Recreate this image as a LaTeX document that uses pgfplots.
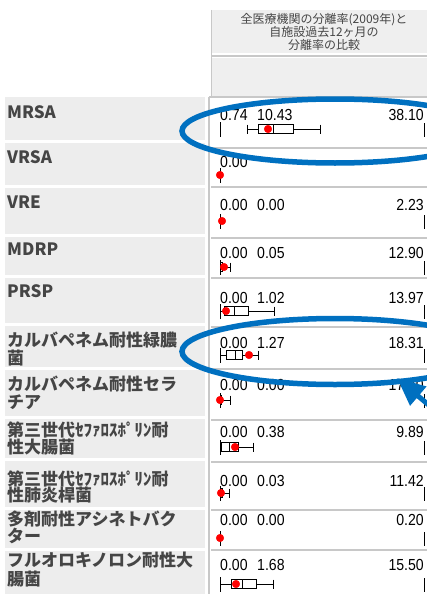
\documentclass[border=0pt]{standalone}
\usepackage{fontspec}
\usepackage{pgfplots}
\pgfplotsset{compat=1.18}
\usepgfplotslibrary{statistics}
\usetikzlibrary{arrows.meta}
\setmainfont{Liberation Sans}
\newfontfamily\jp{Noto Sans CJK JP}
\newfontfamily\num{Liberation Sans}[FakeStretch=0.88]
\definecolor{hdrgray}{HTML}{EFEFEF}
\definecolor{lblgray}{HTML}{EDEDED}
\definecolor{linegray}{HTML}{C8C8C8}
\definecolor{txtgray}{HTML}{454545}
\definecolor{annblue}{HTML}{0070C0}
\tikzset{
  lbl/.style={anchor=base west, inner sep=0pt, text=txtgray, font=\jp\bfseries\fontsize{17}{17}\selectfont},
  nl/.style={anchor=base west, inner sep=0pt, font=\num\fontsize{16}{16}\selectfont},
  nr/.style={anchor=base east, inner sep=0pt, font=\num\fontsize{16}{16}\selectfont},
  hd/.style={anchor=base, inner sep=0pt, text=txtgray, font=\jp\fontsize{12}{12}\selectfont}}
\pgfplotsset{bx/.style={draw=black, fill=white, line width=0.8pt, boxplot/draw direction=x}}
\begin{document}
\begin{tikzpicture}
\begin{axis}[scale only axis, width=427pt, height=594pt,
  xmin=0, xmax=427, ymin=0, ymax=594, y dir=reverse,
  hide axis, clip=true]

% header
\fill[hdrgray] (axis cs:211,10) rectangle (axis cs:427,53);
\fill[hdrgray] (axis cs:211,58) rectangle (axis cs:427,96);
\draw[linegray, line width=1.5pt] (axis cs:211,56) -- (axis cs:427,56);
\draw[linegray, line width=1pt] (axis cs:211,10) -- (axis cs:211,97);
\node[hd] at (axis cs:324,24) {全医療機関の分離率(2009年)と};
\node[hd] at (axis cs:324,37) {自施設過去12ヶ月の};
\node[hd] at (axis cs:324,50) {分離率の比較};

% left label backgrounds
\fill[lblgray] (axis cs:5,97) rectangle (axis cs:205,139.5);
\fill[lblgray] (axis cs:5,142.5) rectangle (axis cs:205,184.5);
\fill[lblgray] (axis cs:5,187.5) rectangle (axis cs:205,233.5);
\fill[lblgray] (axis cs:5,236.5) rectangle (axis cs:205,274.5);
\fill[lblgray] (axis cs:5,277.5) rectangle (axis cs:205,322.5);
\fill[lblgray] (axis cs:5,325.5) rectangle (axis cs:205,366.5);
\fill[lblgray] (axis cs:5,369.5) rectangle (axis cs:205,415.5);
\fill[lblgray] (axis cs:5,418.5) rectangle (axis cs:205,457.5);
\fill[lblgray] (axis cs:5,460.5) rectangle (axis cs:205,506.5);
\fill[lblgray] (axis cs:5,509.5) rectangle (axis cs:205,547.5);
\fill[lblgray] (axis cs:5,550.5) rectangle (axis cs:205,594);

% grid lines of the right column
\draw[linegray, line width=1.5pt] (axis cs:209,97) -- (axis cs:209,594);
\draw[linegray, line width=1.5pt] (axis cs:209,97) -- (axis cs:427,97);
\draw[linegray, line width=1.3pt] (axis cs:211,148) -- (axis cs:427,148);
\draw[linegray, line width=1.3pt] (axis cs:211,187) -- (axis cs:427,187);
\draw[linegray, line width=1.3pt] (axis cs:211,238) -- (axis cs:427,238);
\draw[linegray, line width=1.3pt] (axis cs:211,278) -- (axis cs:427,278);
\draw[linegray, line width=1.3pt] (axis cs:211,327) -- (axis cs:427,327);
\draw[linegray, line width=1.3pt] (axis cs:211,369) -- (axis cs:427,369);
\draw[linegray, line width=1.3pt] (axis cs:211,420) -- (axis cs:427,420);
\draw[linegray, line width=1.3pt] (axis cs:211,462) -- (axis cs:427,462);
\draw[linegray, line width=1.3pt] (axis cs:211,510) -- (axis cs:427,510);
\draw[linegray, line width=1.3pt] (axis cs:211,550) -- (axis cs:427,550);

% row labels
\node[lbl] at (axis cs:7,118) {MRSA};
\node[lbl] at (axis cs:7,163) {VRSA};
\node[lbl] at (axis cs:7,208) {VRE};
\node[lbl] at (axis cs:7,255) {MDRP};
\node[lbl] at (axis cs:7,297) {PRSP};
\node[lbl] at (axis cs:7,346) {カルバペネム耐性緑膿};
\node[lbl] at (axis cs:7,364) {菌};
\node[lbl] at (axis cs:7,390) {カルバペネム耐性セラ};
\node[lbl] at (axis cs:7,408) {チア};
\node[lbl] at (axis cs:7,436) {第三世代ｾﾌｧﾛｽﾎﾟﾘﾝ耐};
\node[lbl] at (axis cs:7,453) {性大腸菌};
\node[lbl] at (axis cs:7,485) {第三世代ｾﾌｧﾛｽﾎﾟﾘﾝ耐};
\node[lbl] at (axis cs:7,501) {性肺炎桿菌};
\node[lbl] at (axis cs:7,525) {多剤耐性アシネトバク};
\node[lbl] at (axis cs:7,542) {ター};
\node[lbl] at (axis cs:7,566) {フルオロキノロン耐性大};
\node[lbl] at (axis cs:7,585) {腸菌};

% numbers: min, median, max
\node[nl] at (axis cs:220,120) {0.74}; \node[nl] at (axis cs:257,120) {10.43}; \node[nr] at (axis cs:424,120) {38.10};
\node[nl] at (axis cs:220,167) {0.00};
\node[nl] at (axis cs:220,210) {0.00}; \node[nl] at (axis cs:257,210) {0.00}; \node[nr] at (axis cs:424,210) {2.23};
\node[nl] at (axis cs:220,258) {0.00}; \node[nl] at (axis cs:257,258) {0.05}; \node[nr] at (axis cs:424,258) {12.90};
\node[nl] at (axis cs:220,303) {0.00}; \node[nl] at (axis cs:257,303) {1.02}; \node[nr] at (axis cs:424,303) {13.97};
\node[nl] at (axis cs:220,348) {0.00}; \node[nl] at (axis cs:257,348) {1.27}; \node[nr] at (axis cs:424,348) {18.31};
\node[nl] at (axis cs:220,390) {0.00}; \node[nl] at (axis cs:257,390) {0.00}; \node[nr] at (axis cs:424,390) {17.70};
\node[nl] at (axis cs:220,437) {0.00}; \node[nl] at (axis cs:257,437) {0.38}; \node[nr] at (axis cs:424,437) {9.89};
\node[nl] at (axis cs:220,486) {0.00}; \node[nl] at (axis cs:257,486) {0.03}; \node[nr] at (axis cs:424,486) {11.42};
\node[nl] at (axis cs:220,525) {0.00}; \node[nl] at (axis cs:257,525) {0.00}; \node[nr] at (axis cs:424,525) {0.20};
\node[nl] at (axis cs:220,570) {0.00}; \node[nl] at (axis cs:257,570) {1.68}; \node[nr] at (axis cs:424,570) {15.50};

% min / max end ticks
\addplot[black, line width=0.9pt, unbounded coords=jump] table[row sep=\\] {
x y\\ 220 122\\ 220 137\\ nan nan\\ 424 123\\ 424 137\\ nan nan\\
220 168\\ 220 183\\ nan nan\\
220 214\\ 220 229\\ nan nan\\ 424 215\\ 424 229\\ nan nan\\
220 260\\ 220 275\\ nan nan\\ 424 261\\ 424 275\\ nan nan\\
220 304\\ 220 319\\ nan nan\\ 424 305\\ 424 319\\ nan nan\\
220 348\\ 220 363\\ nan nan\\ 424 349\\ 424 363\\ nan nan\\
220 393\\ 220 408\\ nan nan\\ 424 394\\ 424 408\\ nan nan\\
220 440\\ 220 455\\ nan nan\\ 424 441\\ 424 455\\ nan nan\\
220 486\\ 220 501\\ nan nan\\ 424 487\\ 424 501\\ nan nan\\
220 531\\ 220 546\\ nan nan\\ 424 532\\ 424 546\\ nan nan\\
220 577\\ 220 592\\ nan nan\\ 424 578\\ 424 592\\
};

% box plots (pixel positions along each row's own min-max scale)
\addplot[bx, boxplot prepared={lower whisker=247, lower quartile=258, median=273, upper quartile=293, upper whisker=320, draw position=129, box extend=9, whisker extend=9}] coordinates {};
\addplot[bx, boxplot prepared={lower whisker=220, lower quartile=220, median=220.5, upper quartile=222, upper whisker=230, draw position=267, box extend=9, whisker extend=9}] coordinates {};
\addplot[bx, boxplot prepared={lower whisker=220, lower quartile=224, median=234, upper quartile=248, upper whisker=274, draw position=311, box extend=9, whisker extend=9}] coordinates {};
\addplot[bx, boxplot prepared={lower whisker=220, lower quartile=226, median=235, upper quartile=242, upper whisker=258, draw position=355, box extend=9, whisker extend=9}] coordinates {};
\addplot[bx, boxplot prepared={lower whisker=220, lower quartile=220, median=220, upper quartile=221, upper whisker=230, draw position=400, box extend=9, whisker extend=9}] coordinates {};
\addplot[bx, boxplot prepared={lower whisker=220, lower quartile=221, median=229, upper quartile=238, upper whisker=253, draw position=447, box extend=9, whisker extend=9}] coordinates {};
\addplot[bx, boxplot prepared={lower whisker=220, lower quartile=220, median=220, upper quartile=222, upper whisker=229, draw position=493, box extend=9, whisker extend=9}] coordinates {};
\addplot[bx, boxplot prepared={lower whisker=220, lower quartile=231, median=242, upper quartile=256, upper whisker=273, draw position=584, box extend=9, whisker extend=9}] coordinates {};

% own-hospital rates (red dots)
\addplot[only marks, mark=*, mark size=3.8pt, red, mark options={fill=red, draw=red}] coordinates {
(268,129) (220,175) (222,221) (224,267) (226,311) (249,355) (220,400) (235,447) (221,493) (220,538) (236,584)};

% annotations
\draw[annblue, line width=5.5pt] (axis cs:335,131) ellipse [x radius=153, y radius=32];
\draw[annblue, line width=5.5pt] (axis cs:335,351.5) ellipse [x radius=153, y radius=33];
\draw[annblue, line width=5pt, -{Triangle[length=28pt, width=24pt]}] (axis cs:458,430) -- (axis cs:397,378);
\end{axis}
\pgfresetboundingbox
\path[use as bounding box] (current axis.south west) rectangle (current axis.north east);
\end{tikzpicture}
\end{document}
